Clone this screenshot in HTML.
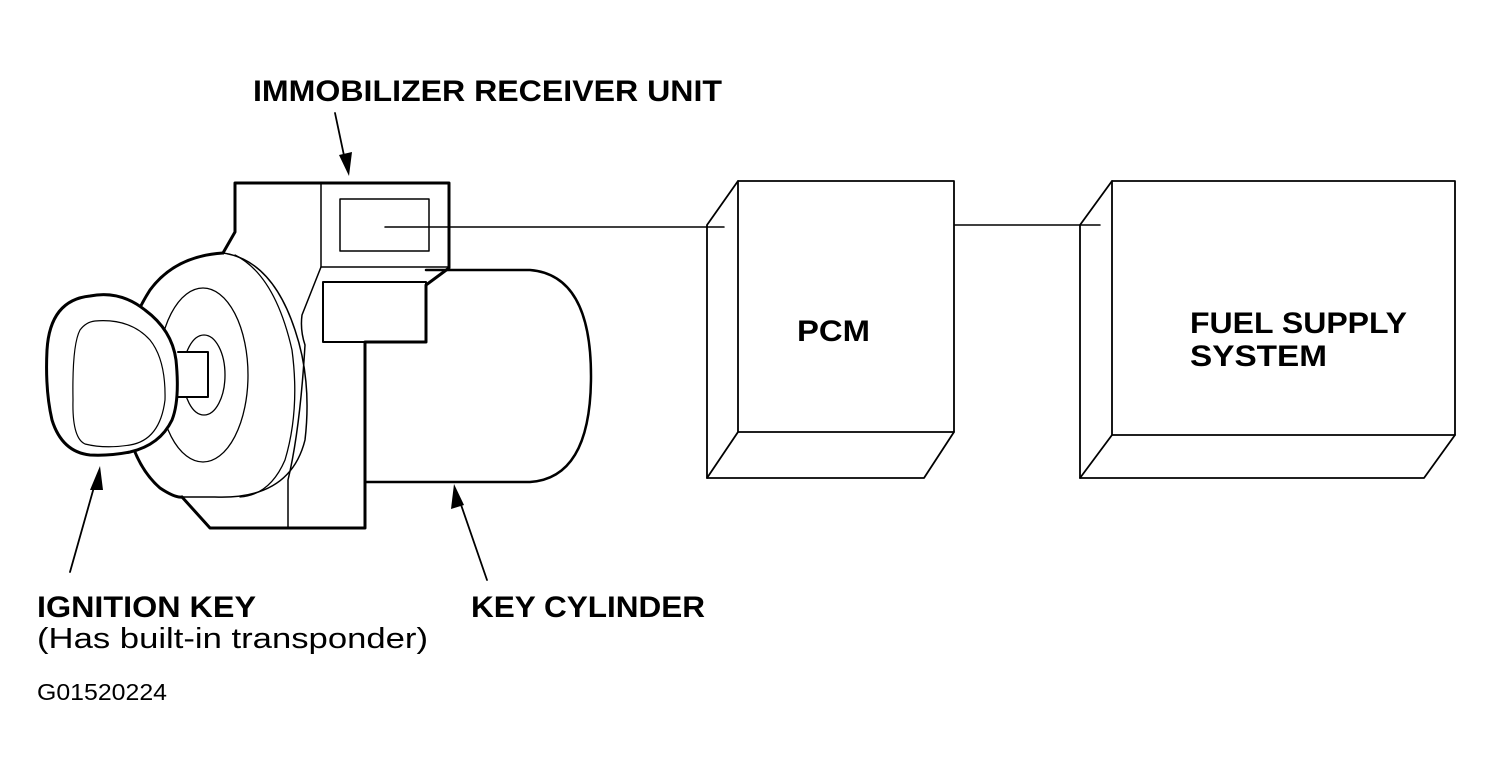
<!DOCTYPE html>
<html><head><meta charset="utf-8"><style>
html,body{margin:0;padding:0;background:#fff;}
svg{display:block;}
text{font-family:"Liberation Sans",sans-serif;fill:#000;}
.b{font-weight:bold;font-size:30px;}
</style></head><body>
<svg width="1494" height="774" viewBox="0 0 1494 774" xmlns="http://www.w3.org/2000/svg">
<g fill="none" stroke="#000" stroke-linejoin="round" stroke-linecap="round">
<!-- cylinder -->
<path d="M426,270 L530,270 Q591,275 591,376 Q591,478 530,482 L365,482" stroke-width="2.5"/>
<!-- housing outline -->
<path d="M223,253 L235,232 L235,183 L449,183 L449,268 L426,285 L426,342 L365,342 L365,528 L210,528 L182,497" stroke-width="3"/>
<path d="M321,183 L321,267 L449,267" stroke-width="1.5"/>
<rect x="340" y="199" width="89" height="52" stroke-width="1.5"/>
<rect x="323" y="282" width="103" height="60" stroke-width="2"/>
<path d="M321,267 L302,315 Q300,330 305,345 Q300,430 288,480 L288,528" stroke-width="1.5"/>
<!-- disk -->
<path d="M223,253 Q175,256 150,290 Q118,340 123,398 Q128,460 160,488 Q175,498 182,497" stroke-width="3"/>
<path d="M223,253 Q272,260 295,330 Q312,380 305,440 Q290,500 215,497 L182,497" stroke-width="1.5"/>
<path d="M235,255 Q275,275 292,350 Q300,410 285,460 Q270,495 240,497" stroke-width="1.3"/>
<ellipse cx="203" cy="375" rx="45" ry="87" stroke-width="1.3"/>
<ellipse cx="204" cy="375" rx="21" ry="40" stroke-width="1.3"/>
<!-- key -->
<path d="M178,352 L208,352 L208,397 L178,397" fill="#fff" stroke-width="2"/>
<path d="M90,296 Q120,290 145,310 Q172,330 176,360 Q180,400 172,420 Q160,445 130,452 Q110,456 90,455 Q62,452 52,420 Q45,390 47,350 Q50,300 90,296 Z" fill="#fff" stroke-width="3"/>
<path d="M95,321 Q130,318 150,340 Q166,360 165,400 Q160,440 130,445 Q105,449 85,444 Q72,438 73,400 Q72,345 80,330 Q86,322 95,321 Z" stroke-width="1.2"/>
<!-- PCM -->
<g stroke-width="1.8">
<path d="M738,181 L954,181 L954,432 L924,478 L707,478 L707,225 L738,181 Z"/>
<path d="M738,181 L738,432 L954,432 M738,432 L707,478"/>
<path d="M1112,181 L1455,181 L1455,435 L1424,478 L1080,478 L1080,225 L1112,181 Z"/>
<path d="M1112,181 L1112,435 L1455,435 M1112,435 L1080,478"/>
</g>
<!-- connectors -->
<path d="M385,227 L724,227 M955,225 L1100,225" stroke-width="1.5"/>
<!-- arrows -->
<path d="M70,572 L96,480 M487,580 L458,496 M335,113 L346,165" stroke-width="1.8"/>
</g>
<g fill="#000">
<polygon points="100,466 90,490 103,490"/>
<polygon points="454,484 451,509 464,505"/>
<polygon points="349,176 339,155 352,152"/>
</g>
<text x="253" y="101" class="b" textLength="469" lengthAdjust="spacingAndGlyphs">IMMOBILIZER RECEIVER UNIT</text>
<text x="797" y="341" class="b" textLength="73" lengthAdjust="spacingAndGlyphs">PCM</text>
<text x="1190" y="333" class="b" textLength="217" lengthAdjust="spacingAndGlyphs">FUEL SUPPLY</text>
<text x="1190" y="366" class="b" textLength="137" lengthAdjust="spacingAndGlyphs">SYSTEM</text>
<text x="37" y="617" class="b" textLength="219" lengthAdjust="spacingAndGlyphs">IGNITION KEY</text>
<text x="471" y="617" class="b" textLength="234" lengthAdjust="spacingAndGlyphs">KEY CYLINDER</text>
<text x="37" y="648" font-size="29" textLength="391" lengthAdjust="spacingAndGlyphs">(Has built-in transponder)</text>
<text x="37" y="700" font-size="23" textLength="130" lengthAdjust="spacingAndGlyphs">G01520224</text>
</svg>
</body></html>
